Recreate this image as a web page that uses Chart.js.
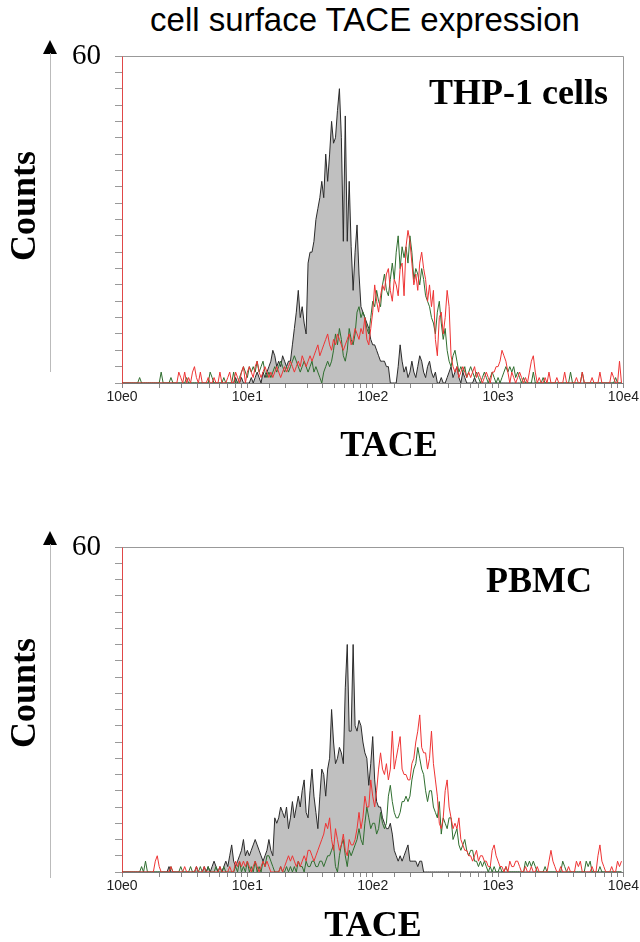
<!DOCTYPE html>
<html>
<head>
<meta charset="utf-8">
<script src="https://cdn.jsdelivr.net/npm/chart.js@4.4.1/dist/chart.umd.min.js"></script>
<style>
  body { margin: 0; background: #fff; }
  #wrap { position: relative; width: 640px; height: 942px; overflow: hidden; background: #fff; }
  canvas { position: absolute; left: 0; }
  .txt { position: absolute; white-space: nowrap; color: #000; line-height: 1; }
  .serif { font-family: 'Liberation Serif', 'Times New Roman', serif; font-weight: bold; }
  .vline { position: absolute; width: 1px; background: #bbb; }
  .tri { position: absolute; width: 0; height: 0; border-left: 7px solid transparent; border-right: 7px solid transparent; border-bottom: 14px solid #000; }
</style>
</head>
<body>
<div id="wrap">
  <div class="txt" style="left:365px; top:1px; transform:translateX(-50%); font:33px 'Liberation Sans', Arial, sans-serif;">cell surface TACE expression</div>

  <canvas id="thpChart" width="640" height="471" style="top:0"></canvas>
  <canvas id="pbmcChart" width="640" height="471" style="top:471px"></canvas>

  <div class="tri" style="left:43px; top:40px"></div>
  <div class="vline" style="left:50px; top:53px; height:319px"></div>
  <div class="txt serif" style="left:23px; top:206px; font-size:36px; transform:translate(-50%,-50%) rotate(-90deg);">Counts</div>
  <div class="txt serif" style="right:32px; top:74px; font-size:36px;">THP-1 cells</div>
  <div class="txt serif" style="left:389px; top:426px; font-size:36px; transform:translateX(-50%);">TACE</div>

  <div class="tri" style="left:43px; top:531px"></div>
  <div class="vline" style="left:50px; top:544px; height:334px"></div>
  <div class="txt serif" style="left:23px; top:693px; font-size:36px; transform:translate(-50%,-50%) rotate(-90deg);">Counts</div>
  <div class="txt serif" style="right:48px; top:562px; font-size:36px;">PBMC</div>
  <div class="txt serif" style="left:373px; top:906px; font-size:36px; transform:translateX(-50%);">TACE</div>
</div>
<script>
// 256 log channels over 4 decades (10e0 .. 10e4), counts per channel

// THP-1 cells
const thpIsotype = [
  0,0,0,0,0,0,0,0,0,0,0,0,0,0,0,0,
  0,0,0,0,0,0,0,0,0,0,0,0,0,0,0,0,
  0,0,0,0,0,0,0,0,0,0,0,0,0,0,0,0,
  0,0,0,0,0,0,0,0,0,0,1,0,0,1,0,0,
  0,0,1,0,1,2,1,0,2,1,2,3,4,6,5,3,
  4,3,5,4,3,4,4,7,10,13,17,12,14,11,9,22,
  24,24,26,30,32,34,37,34,42,37,42,48,44,45,50,54,
  45,26,49,26,37,25,17,24,29,20,14,13,12,11,10,8,
  7,7,6,5,4,4,4,3,3,0,0,0,0,3,7,4,
  2,3,1,2,4,2,1,3,5,4,2,1,3,4,2,1,
  2,0,0,1,0,0,1,2,3,1,2,3,1,0,2,1,
  0,0,0,0,1,0,0,0,0,0,0,0,0,0,0,0,
  0,0,0,0,0,0,0,0,0,0,0,0,0,0,0,0,
  0,0,0,0,0,0,0,0,0,0,0,0,0,0,0,0,
  0,0,0,0,0,0,0,0,0,0,0,0,0,0,0,0,
  0,0,0,0,0,0,0,0,0,0,0,0,0,0,0,0
];
const thpGreen = [
  0,0,0,0,0,0,0,0,0,1,0,0,0,0,0,0,
  0,0,0,0,2,0,0,0,0,1,0,0,0,0,0,0,
  0,1,0,0,0,0,0,0,0,0,0,0,0,2,1,0,
  0,0,0,0,1,0,0,0,0,2,0,0,1,2,3,2,
  1,3,2,3,2,4,2,3,4,2,1,2,1,2,3,2,
  3,4,3,2,3,2,3,4,5,4,3,2,3,4,3,2,
  3,4,2,3,2,1,0,2,3,4,3,4,6,9,7,10,
  8,5,4,6,10,8,7,9,13,14,12,13,12,10,9,12,
  15,14,17,15,14,18,20,17,16,19,22,19,24,27,21,25,
  23,25,22,27,24,19,21,20,18,21,19,16,15,14,12,11,
  9,13,15,11,8,10,6,4,3,5,6,4,2,3,2,3,
  1,2,3,2,1,2,1,0,1,2,1,0,1,2,1,0,
  1,0,1,2,3,2,3,2,3,1,2,1,0,1,0,0,
  0,0,2,0,0,0,0,1,0,0,0,0,0,0,0,0,
  0,0,0,0,0,2,0,0,0,0,0,2,0,0,0,0,
  0,0,0,0,0,0,0,0,0,0,0,0,1,0,0,0
];
const thpRed = [
  0,0,0,0,0,0,0,0,0,0,0,0,0,0,0,0,
  0,0,0,0,0,0,0,0,0,0,0,0,0,2,1,0,
  2,0,1,0,2,3,1,0,2,0,0,0,1,0,0,1,
  0,0,2,0,0,0,1,2,0,0,2,1,0,2,3,0,
  2,3,2,1,3,4,2,1,2,3,2,1,2,1,2,3,
  2,1,2,3,2,3,4,3,2,3,4,3,5,4,3,4,
  5,4,5,6,7,5,6,7,8,9,7,6,8,7,9,8,
  7,6,7,8,9,7,8,10,9,8,10,9,12,8,7,10,
  13,18,15,13,16,18,17,20,21,17,15,19,18,16,21,22,
  16,25,28,26,22,18,20,17,22,24,21,19,15,18,14,17,
  8,5,12,13,9,12,17,14,5,3,2,3,1,2,3,2,
  1,2,1,2,3,1,2,1,0,1,2,1,0,2,2,3,
  3,4,6,5,4,2,0,2,1,0,1,2,1,0,1,0,
  2,4,5,2,0,1,0,0,1,0,2,0,0,0,1,0,
  0,0,2,0,0,0,0,0,1,0,0,2,0,0,0,0,
  1,0,0,0,2,0,0,0,0,0,2,1,0,0,4,0
];

// PBMC
const pbmcIsotype = [
  0,0,0,0,0,0,0,0,0,0,0,0,0,0,0,0,
  0,0,0,0,0,0,0,0,1,0,0,0,0,0,0,0,
  0,0,0,0,0,0,1,0,0,0,1,0,1,0,1,2,
  1,0,1,0,1,2,1,3,5,2,1,2,3,4,6,3,
  4,3,4,5,6,5,4,3,2,3,4,6,4,3,10,9,
  10,12,11,10,12,8,10,13,10,12,14,12,15,17,11,10,
  15,19,14,11,8,14,19,18,14,19,21,30,24,20,21,23,
  22,20,34,42,26,26,42,27,26,28,27,24,22,21,16,20,
  25,17,13,12,12,10,9,8,8,9,7,4,3,2,3,2,
  3,4,5,2,2,2,2,1,2,2,0,0,0,0,0,0,
  0,0,0,0,0,0,0,0,0,0,0,0,0,0,0,0,
  0,0,0,0,0,0,0,0,0,0,0,0,0,0,0,0,
  0,0,0,0,0,0,0,0,0,0,0,0,0,0,0,0,
  0,0,0,0,0,0,0,0,0,0,0,0,0,0,0,0,
  0,0,0,0,0,0,0,0,0,0,0,0,0,0,0,0,
  0,0,0,0,0,0,0,0,0,0,0,0,0,0,0,0
];
const pbmcGreen = [
  0,0,0,0,0,0,0,0,0,0,1,0,2,0,0,0,
  0,0,0,0,0,0,0,0,0,1,0,0,0,0,1,0,
  0,0,0,1,0,0,0,0,1,0,0,0,1,0,0,0,
  1,0,0,0,1,0,0,0,0,0,1,0,2,0,1,0,
  2,0,1,0,2,0,1,0,2,1,3,3,2,1,0,0,
  0,1,0,0,1,0,1,0,1,0,2,1,1,0,2,1,
  1,2,2,1,1,2,2,1,2,3,3,4,5,1,0,3,
  5,6,3,1,4,3,4,5,6,8,6,5,9,12,10,8,
  9,9,7,8,11,9,8,9,14,16,13,11,10,10,11,13,
  13,14,13,14,17,19,20,23,21,19,18,15,13,15,15,12,
  11,10,13,7,10,9,8,10,10,6,7,8,5,4,5,6,
  4,3,4,4,2,2,1,2,1,2,1,0,1,0,1,0,
  0,1,0,0,1,0,0,0,0,0,0,0,0,0,2,1,
  2,1,2,1,0,0,0,0,1,0,0,0,0,0,0,0,
  0,2,1,0,0,0,0,0,0,0,0,0,0,2,1,2,
  0,0,0,0,1,0,0,0,0,0,0,0,0,0,0,0
];
const pbmcRed = [
  0,0,0,0,0,0,0,0,0,0,0,0,0,0,0,0,
  0,2,3,1,0,0,0,0,0,1,0,0,0,0,0,0,
  1,0,0,0,0,0,1,0,0,0,1,0,0,0,0,0,
  0,0,1,0,0,0,0,1,0,0,2,1,2,1,2,1,
  2,1,0,1,2,1,0,1,2,1,2,1,0,0,0,0,
  0,1,0,1,2,3,2,3,2,1,2,1,2,3,2,4,
  4,3,2,3,4,5,6,7,9,8,10,6,4,8,6,4,
  5,7,4,3,6,5,5,6,8,11,8,10,14,12,12,17,
  14,12,15,19,22,19,18,20,17,19,26,19,21,23,25,19,
  18,18,17,17,20,21,24,26,29,23,22,22,19,21,26,20,
  17,14,9,8,10,15,17,12,10,8,9,8,10,6,5,4,
  4,3,3,2,3,4,2,3,3,2,2,1,1,4,5,3,
  2,1,1,0,1,0,2,1,1,2,2,1,0,0,1,0,
  0,1,0,0,1,0,0,0,0,0,2,4,2,1,0,0,
  1,0,0,0,1,0,0,0,2,1,2,0,0,0,0,0,
  1,0,0,3,5,2,1,0,0,0,1,0,0,2,1,2
];

const decadeLabels = ['10e0', '10e1', '10e2', '10e3', '10e4'];
const channelsPerDecade = 64;

function toPoints(counts) {
  return counts.map((v, i) => ({ x: Math.pow(10, i / channelsPerDecade), y: v }));
}

// gray box on top and right of the plot area
const framePlugin = {
  id: 'frame',
  afterDraw(chart) {
    const { ctx, chartArea: a } = chart;
    ctx.save();
    ctx.strokeStyle = '#999';
    ctx.lineWidth = 1;
    ctx.beginPath();
    ctx.moveTo(Math.round(a.left) + 0.5, Math.round(a.top) + 0.5);
    ctx.lineTo(Math.round(a.right) + 0.5, Math.round(a.top) + 0.5);
    ctx.lineTo(Math.round(a.right) + 0.5, Math.round(a.bottom) + 0.5);
    ctx.stroke();
    ctx.restore();
  }
};

function makeHistogram(canvasId, iso, green, red, topPad, bottomPad) {
  const ctx = document.getElementById(canvasId).getContext('2d');
  return new Chart(ctx, {
    type: 'line',
    data: {
      datasets: [
        {
          label: 'isotype',
          data: toPoints(iso),
          borderColor: '#2b2b2b',
          backgroundColor: '#c0c0c0',
          borderWidth: 1,
          fill: 'origin',
          order: 3
        },
        {
          label: 'green',
          data: toPoints(green),
          borderColor: '#2f6e2f',
          borderWidth: 1,
          fill: false,
          order: 2
        },
        {
          label: 'red',
          data: toPoints(red),
          borderColor: '#ee3434',
          borderWidth: 1,
          fill: false,
          order: 1
        }
      ]
    },
    options: {
      responsive: false,
      animation: false,
      devicePixelRatio: 1,
      layout: { padding: { top: topPad, left: 62, right: 16, bottom: bottomPad } },
      elements: { point: { radius: 0 }, line: { tension: 0 } },
      plugins: { legend: { display: false }, tooltip: { enabled: false } },
      scales: {
        x: {
          type: 'logarithmic',
          min: 1,
          max: 10000,
          z: 1,
          afterFit: s => { s.height = 30; },
          border: { color: '#777', width: 1 },
          grid: { drawOnChartArea: false, drawTicks: true, tickLength: 5, color: '#888' },
          ticks: {
            autoSkip: false,
            maxRotation: 0,
            padding: 1,
            color: '#222',
            font: { family: "'Liberation Sans', Arial, sans-serif", size: 14 },
            callback: v => {
              const e = Math.round(Math.log10(v));
              return Math.abs(v - Math.pow(10, e)) < 1e-6 ? decadeLabels[e] : '';
            }
          }
        },
        y: {
          min: 0,
          max: 60,
          afterFit: s => { s.width = 60; },
          border: { color: '#e04848', width: 1 },
          grid: { drawOnChartArea: false, drawTicks: true, tickLength: 7, color: '#999' },
          ticks: {
            stepSize: 3,
            autoSkip: false,
            padding: 14,
            color: '#000',
            font: { family: "'Liberation Serif', 'Times New Roman', serif", size: 29 },
            callback: v => (v === 60 ? '60' : '')
          }
        }
      }
    },
    plugins: [framePlugin]
  });
}

makeHistogram('thpChart', thpIsotype, thpGreen, thpRed, 56, 58);
makeHistogram('pbmcChart', pbmcIsotype, pbmcGreen, pbmcRed, 76, 40);
</script>
</body>
</html>
